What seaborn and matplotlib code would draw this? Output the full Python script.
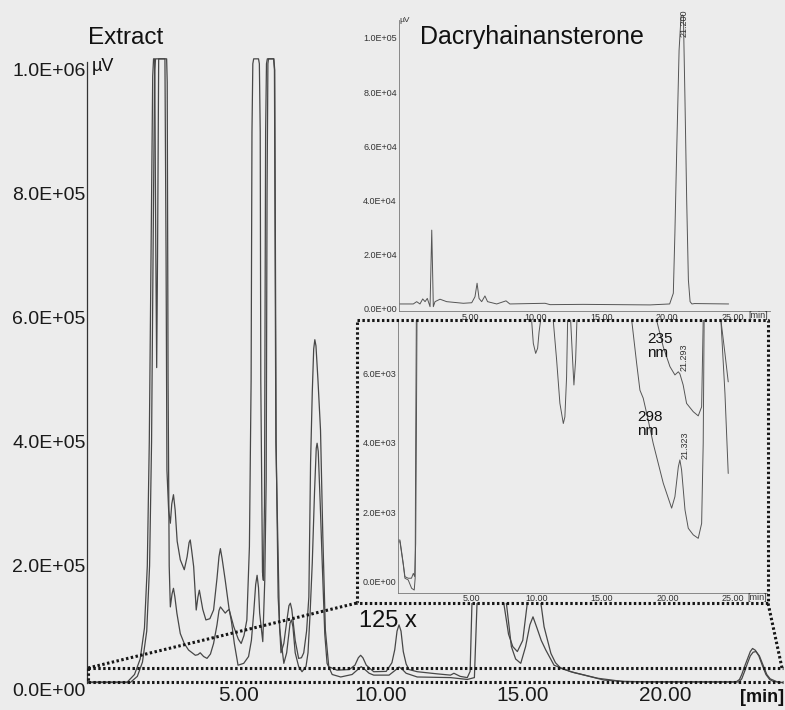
import matplotlib
matplotlib.use("Agg")
import matplotlib.pyplot as plt
import seaborn as sns
import pandas as pd
from matplotlib.lines import Line2D
from matplotlib.patches import Rectangle
from matplotlib.ticker import FuncFormatter, FixedLocator

# ---------------- data ----------------
# Main chromatogram of the extract: two detector traces (time in min, signal in kµV)
extract_upper = [
    (-0.32, 13), (1.10, 13), (1.35, 25), (1.55, 50), (1.70, 100), (1.80, 200), (1.87, 400),
    (1.95, 800), (1.99, 990), (2.02, 1018), (2.06, 1018), (2.10, 700), (2.13, 520), (2.16, 700),
    (2.20, 1018), (2.42, 1018), (2.46, 700), (2.49, 355), (2.55, 290), (2.61, 269), (2.66, 300),
    (2.72, 315), (2.78, 290), (2.85, 240), (2.96, 210), (3.10, 194), (3.20, 215), (3.27, 238),
    (3.31, 242), (3.36, 225), (3.43, 199), (3.52, 129), (3.58, 150), (3.63, 161), (3.69, 145),
    (3.75, 130), (3.86, 113), (4.00, 115), (4.13, 129), (4.25, 180), (4.32, 215), (4.37, 228),
    (4.43, 212), (4.54, 177), (4.68, 129), (4.84, 102), (5.00, 82), (5.10, 75), (5.20, 88),
    (5.30, 113), (5.39, 231), (5.45, 500), (5.48, 900), (5.51, 1010), (5.54, 1018), (5.71, 1018),
    (5.74, 1010), (5.77, 900), (5.79, 500), (5.85, 190), (5.88, 177), (5.92, 300), (5.96, 900),
    (5.99, 1010), (6.02, 1018), (6.25, 1018), (6.28, 1000), (6.33, 400), (6.40, 150), (6.50, 60),
    (6.60, 75), (6.70, 110), (6.78, 136), (6.83, 140), (6.88, 130), (7.00, 80), (7.12, 51),
    (7.22, 52), (7.30, 60), (7.40, 95), (7.48, 150), (7.54, 366), (7.60, 480), (7.65, 550),
    (7.69, 565), (7.73, 555), (7.80, 500), (7.89, 419), (7.97, 250), (8.06, 97), (8.18, 37.6),
    (8.47, 32), (8.90, 33), (9.10, 40), (9.22, 52), (9.30, 56), (9.38, 52), (9.50, 40),
    (9.76, 29.5), (10.20, 30), (10.40, 44), (10.50, 65), (10.58, 95), (10.65, 105), (10.72, 95),
    (10.80, 62), (10.90, 42), (11.00, 33), (11.29, 29.5), (12.00, 26), (12.46, 24), (12.58, 27),
    (12.80, 22), (13.05, 20), (13.15, 30), (13.22, 150), (13.30, 600), (13.40, 1015),
    (14.05, 1015), (14.17, 300), (14.30, 150), (14.50, 90), (14.65, 70), (14.81, 62), (15.00, 80),
    (15.16, 140), (15.35, 250), (15.55, 170), (15.75, 102), (15.99, 59), (16.15, 44), (16.34, 35),
    (16.80, 28), (17.16, 24), (17.86, 16), (18.50, 14), (19.50, 13), (22.50, 13), (22.62, 17),
    (22.70, 25), (22.80, 38), (22.90, 50), (23.00, 62), (23.08, 67), (23.18, 64), (23.30, 55),
    (23.42, 40), (23.55, 25), (23.68, 17), (23.80, 14), (24.15, 12),
]
extract_lower = [
    (-0.32, 12), (1.20, 12), (1.45, 22), (1.63, 45), (1.78, 95), (1.88, 200), (1.95, 400),
    (2.02, 800), (2.06, 1000), (2.09, 1018), (2.48, 1018), (2.50, 980), (2.53, 500), (2.57, 200),
    (2.61, 134), (2.67, 155), (2.72, 164), (2.77, 150), (2.84, 124), (2.96, 91), (3.10, 75),
    (3.25, 64.5), (3.49, 56), (3.58, 57), (3.66, 60), (3.78, 54), (3.90, 51), (4.02, 58),
    (4.13, 75), (4.25, 105), (4.32, 128), (4.37, 134), (4.44, 130), (4.54, 124), (4.62, 128),
    (4.68, 130), (4.76, 110), (4.86, 75), (4.99, 40), (5.19, 43), (5.36, 54), (5.46, 80),
    (5.54, 124), (5.61, 170), (5.66, 185), (5.71, 165), (5.75, 124), (5.86, 78), (5.93, 177),
    (5.98, 339), (6.01, 800), (6.04, 1010), (6.06, 1018), (6.24, 1018), (6.27, 1000),
    (6.32, 400), (6.45, 100), (6.60, 43), (6.70, 60), (6.75, 80), (6.82, 108), (6.87, 113),
    (6.92, 102), (7.00, 60), (7.12, 38), (7.24, 29.5), (7.38, 38), (7.45, 60), (7.52, 120),
    (7.60, 205), (7.68, 320), (7.74, 390), (7.77, 398), (7.81, 385), (7.88, 300), (7.95, 205),
    (8.04, 90), (8.12, 43), (8.30, 25), (8.60, 21), (9.00, 25), (9.20, 33), (9.32, 37.6),
    (9.45, 33), (9.60, 27), (9.76, 24), (10.30, 24), (10.55, 33), (10.65, 37), (10.75, 34),
    (10.90, 27), (11.29, 21), (12.46, 20), (13.05, 17), (13.30, 20), (13.40, 150), (13.50, 600),
    (13.60, 1015), (14.10, 1015), (14.28, 300), (14.40, 150), (14.60, 70), (14.75, 50),
    (14.93, 43), (15.10, 70), (15.25, 105), (15.36, 118), (15.50, 100), (15.65, 80),
    (15.81, 64.5), (16.10, 40), (16.69, 29.5), (17.63, 19), (18.57, 13.4), (22.60, 13),
    (22.70, 18), (22.80, 30), (22.90, 43), (23.00, 55), (23.10, 61), (23.20, 62), (23.32, 55),
    (23.45, 40), (23.58, 25), (23.70, 18), (24.00, 12), (24.15, 12),
]
# Reference standard (Dacryhainansterone), signal in µV
dacry = [
    (-0.43, 1850), (0.63, 1850), (0.89, 2700), (1.14, 1850), (1.35, 3700), (1.53, 2700),
    (1.70, 3900), (1.91, 850), (2.04, 29100), (2.16, 850), (2.29, 2700), (2.67, 3600),
    (3.18, 2700), (4.45, 2100), (5.09, 2300), (5.34, 4500), (5.50, 9500), (5.65, 3900),
    (5.85, 2700), (6.10, 4800), (6.30, 2700), (7.00, 1850), (7.71, 3000), (8.00, 1850),
    (10.69, 2100), (11.07, 1600), (13.60, 1700), (18.70, 1500), (20.20, 1850), (20.48, 5800),
    (20.60, 27900), (20.74, 58700), (20.92, 95500), (21.07, 108000), (21.16, 108500),
    (21.25, 108000), (21.37, 77100), (21.50, 40200), (21.63, 10700), (21.76, 2700),
    (21.90, 1850), (22.10, 2000), (24.70, 1850),
]
# 125x magnified extract traces, 235 nm and 298 nm (µV); 9000 = off scale
trace_235 = [
    (-0.55, 1200), (-0.42, 1200), (-0.17, 530), (-0.04, 145), (0.21, 100), (0.46, 100),
    (0.60, 240), (0.70, 150), (0.78, 1100), (0.83, 4000), (0.90, 9000), (19.00, 9000),
    (19.17, 7540), (19.68, 6770), (20.19, 6200), (20.57, 5960), (20.83, 6050), (20.95, 5990),
    (21.20, 5670), (21.46, 5140), (21.97, 4900), (22.35, 4780), (22.61, 5040), (22.73, 7540),
    (22.80, 9000), (24.00, 9000), (24.08, 7540), (24.39, 6580), (24.64, 5760),
]
trace_298 = [
    (-0.55, 1150), (-0.42, 1150), (-0.17, 500), (-0.04, 100), (0.21, 50), (0.47, -190),
    (0.67, -240), (0.74, 100), (0.78, 4000), (0.85, 9000), (9.55, 9000), (9.63, 7540),
    (9.76, 6870), (9.94, 6580), (10.09, 6730), (10.20, 7200), (10.32, 7540), (10.40, 9000),
    (11.20, 9000), (11.28, 7540), (11.54, 6390), (11.79, 5140), (12.05, 4560), (12.17, 4750),
    (12.30, 5900), (12.38, 7540), (12.45, 9000), (12.55, 9000), (12.61, 7540), (12.76, 6390),
    (12.86, 5670), (12.99, 6390), (13.09, 7540), (13.15, 9000), (17.20, 9000), (17.27, 7540),
    (17.65, 6290), (17.90, 5520), (18.15, 5290), (18.53, 4660), (18.91, 3990), (19.68, 2840),
    (20.32, 2120), (20.57, 2450), (20.83, 3310), (20.95, 3510), (21.08, 3220), (21.34, 2070),
    (21.59, 1540), (21.97, 1350), (22.35, 1250), (22.61, 1680), (22.73, 3990), (22.80, 7540),
    (22.85, 9000), (24.00, 9000), (24.08, 7540), (24.39, 5430), (24.64, 3120),
]
main_yticks = [0, 2e5, 4e5, 6e5, 8e5, 1e6]
main_xticks = [5, 10, 15, 20]
dacry_yticks = [0, 2e4, 4e4, 6e4, 8e4, 1e5]
zoom_yticks = [0, 2000, 4000, 6000]
inset_xticks = [5, 10, 15, 20, 25]
peak_labels_dacry = ["21.200"]
peak_labels_zoom = ["21.293", "21.323"]

# ---------------- figure ----------------
sns.set_theme(style="white")
plt.rcParams["font.family"] = ["Liberation Sans", "DejaVu Sans"]

W, H = 785, 710
BG = "#ececec"
LC = "#474747"
fig = plt.figure(figsize=(W / 100, H / 100), dpi=100, facecolor=BG)


def rect(x0, y0, x1, y1):
    return [x0 / W, 1 - y1 / H, (x1 - x0) / W, (y1 - y0) / H]


def fx(x):
    return x / W


def fy(y):
    return 1 - y / H


def to_df(pairs, scale=1.0):
    return pd.DataFrame({"t": [p[0] for p in pairs], "v": [p[1] * scale for p in pairs]})


sci = FuncFormatter(lambda v, p: f"{v:.1E}")
two = FuncFormatter(lambda v, p: f"{v:.2f}")

# ---- main chart ----
ax = fig.add_axes(rect(87, 51.4, 783, 690), zorder=0)
ax.patch.set_alpha(0)
for pairs in (extract_upper, extract_lower):
    d = to_df(pairs, 1000)
    sns.lineplot(data=d, x="t", y="v", ax=ax, color=LC, lw=0.9, estimator=None,
                 sort=False, legend=False)
ax.set_xlim(-0.32, 24.15)
ax.set_ylim(0, 1.03e6)
ax.set_xlabel("")
ax.set_ylabel("")
ax.yaxis.set_major_locator(FixedLocator(main_yticks))
ax.yaxis.set_major_formatter(sci)
ax.xaxis.set_major_locator(FixedLocator(main_xticks))
ax.xaxis.set_major_formatter(two)
ax.tick_params(axis="y", length=0, pad=1, labelsize=14, colors="#1a1a1a")
ax.tick_params(axis="x", length=0, pad=-3, labelsize=15, colors="#1a1a1a")
for s in ("top", "right", "bottom"):
    ax.spines[s].set_visible(False)
ax.spines["left"].set_color("#333333")
ax.spines["left"].set_linewidth(0.9)
ax.spines["left"].set_bounds(11000, 1.013e6)

# cover behind the insets
fig.patches.append(Rectangle((fx(357), fy(603)), (785 - 357) / W, 603 / H,
                             transform=fig.transFigure, facecolor=BG, edgecolor="none", zorder=1))

# ---- upper inset: Dacryhainansterone ----
au = fig.add_axes(rect(399, 10.9, 770, 310.6), zorder=2)
au.patch.set_alpha(0)
sns.lineplot(data=to_df(dacry), x="t", y="v", ax=au, color="#555555", lw=0.7,
             estimator=None, sort=False, legend=False)
au.set_xlim(-0.46, 27.86)
au.set_ylim(-600, 110000)
au.set_xlabel("")
au.set_ylabel("")
au.yaxis.set_major_locator(FixedLocator(dacry_yticks))
au.yaxis.set_major_formatter(sci)
au.xaxis.set_major_locator(FixedLocator(inset_xticks))
au.xaxis.set_major_formatter(two)
au.tick_params(axis="both", length=0, pad=1.5, labelsize=6.5, colors="#333333")
for s in ("top", "right"):
    au.spines[s].set_visible(False)
for s in ("left", "bottom"):
    au.spines[s].set_color("#777777")
    au.spines[s].set_linewidth(0.6)
au.spines["left"].set_bounds(-600, 106600)

# ---- lower inset: 125x ----
al = fig.add_axes(rect(397.6, 320.1, 767, 592.8), zorder=2)
al.patch.set_alpha(0)
for pairs in (trace_235, trace_298):
    sns.lineplot(data=to_df(pairs), x="t", y="v", ax=al, color="#555555", lw=0.7,
                 estimator=None, sort=False, legend=False)
al.set_xlim(-0.6, 27.6)
al.set_ylim(-320, 7540)
al.set_xlabel("")
al.set_ylabel("")
al.yaxis.set_major_locator(FixedLocator(zoom_yticks))
al.yaxis.set_major_formatter(sci)
al.xaxis.set_major_locator(FixedLocator(inset_xticks))
al.xaxis.set_major_formatter(two)
al.tick_params(axis="both", length=0, pad=1.0, labelsize=6.5, colors="#333333")
for s in ("top", "right"):
    al.spines[s].set_visible(False)
for s in ("left", "bottom"):
    al.spines[s].set_color("#777777")
    al.spines[s].set_linewidth(0.6)

# ---- dotted zoom frames ----
def dline(pts):
    fig.add_artist(Line2D([fx(p[0]) for p in pts], [fy(p[1]) for p in pts],
                          transform=fig.transFigure, color="#161616", lw=2.2,
                          ls=(0, (0.8, 0.8)), zorder=4))


dline([(88, 668), (783, 668)])
dline([(88, 682), (783, 682)])
dline([(88, 668), (88, 682)])
dline([(357, 320), (768, 320), (768, 603), (357, 603), (357, 320)])
dline([(88, 668), (357, 603)])
dline([(782, 668), (768, 603)])

# ---- texts ----
fig.text(fx(88), fy(44), "Extract", fontsize=17.5, color="#111111", va="baseline", ha="left")
fig.text(fx(420), fy(44), "Dacryhainansterone", fontsize=18, color="#111111",
         va="baseline", ha="left")
fig.text(fx(92), fy(71), "µV", fontsize=13, color="#111111", va="baseline", ha="left")
fig.text(fx(762), fy(698), "[min]", fontsize=13, fontweight="bold", color="#111111",
         va="center", ha="center")
fig.text(fx(359), fy(627), "125 x", fontsize=17, color="#111111", va="baseline", ha="left")

fig.text(fx(399), fy(22), "µV", fontsize=6, color="#333333", va="baseline", ha="left")
fig.text(fx(758), fy(315), "[min]", fontsize=6.5, color="#333333", va="center", ha="center", zorder=5)
fig.text(fx(757), fy(597), "[min]", fontsize=6.5, color="#333333", va="center", ha="center", zorder=5)
fig.text(fx(684), fy(37), peak_labels_dacry[0], fontsize=6.5, rotation=90, color="#333333",
         va="bottom", ha="center")
fig.text(fx(684), fy(371), peak_labels_zoom[0], fontsize=6.5, rotation=90, color="#333333",
         va="bottom", ha="center")
fig.text(fx(685), fy(459), peak_labels_zoom[1], fontsize=6.5, rotation=90, color="#333333",
         va="bottom", ha="center")
fig.text(fx(647), fy(332), "235\nnm", fontsize=11, color="#111111", va="top", ha="left",
         linespacing=1.0)
fig.text(fx(637), fy(410), "298\nnm", fontsize=11, color="#111111", va="top", ha="left",
         linespacing=1.0)

fig.savefig("out.png", dpi=100, facecolor=BG)
